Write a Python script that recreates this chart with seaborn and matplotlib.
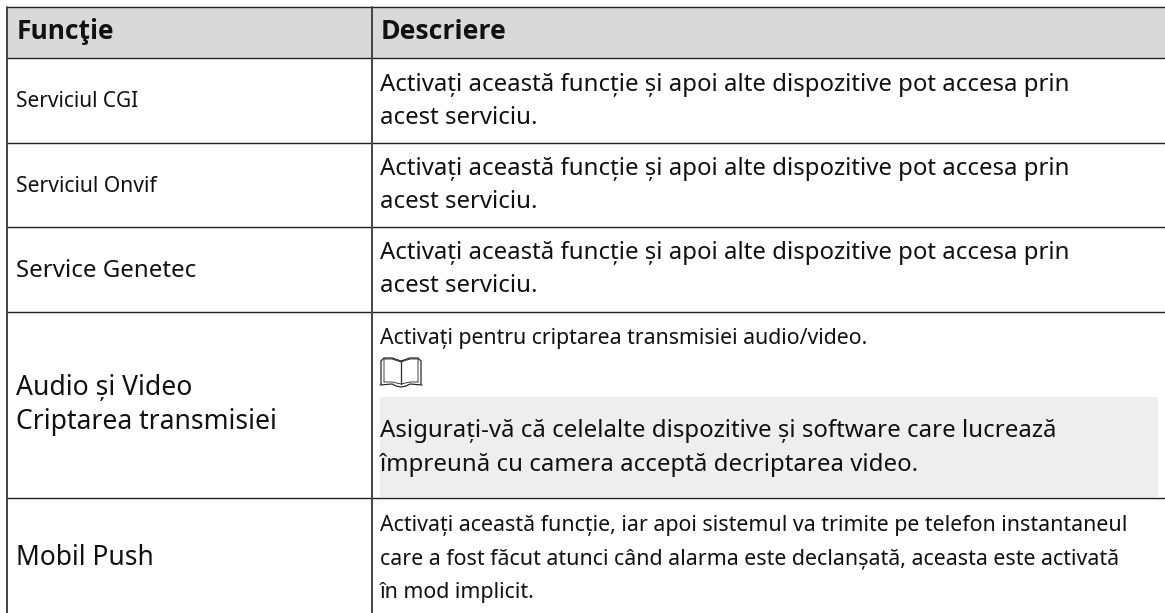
import matplotlib
matplotlib.use("Agg")
import matplotlib.pyplot as plt
import seaborn as sns
from matplotlib.patches import Rectangle

sns.set_theme(style="white")
plt.rcParams['font.family'] = ['Open Sans', 'Noto Sans', 'DejaVu Sans']
BODY = ['Noto Sans', 'DejaVu Sans']

W, H = 1165, 613
headers = ["Funcţie", "Descriere"]
col1 = ["Serviciul CGI", "Serviciul Onvif", "Service Genetec",
        "Audio și Video", "Criptarea transmisiei", "Mobil Push"]
col1_sizes = [15, 15.2, 17.3, 19.1, 19.1, 19]
col1_base = [107, 192, 277, 395, 429, 565]
desc = ["Activați această funcție și apoi alte dispozitive pot accesa prin", "acest serviciu."]
desc_base = [91, 175, 259]
audio1 = "Activați pentru criptarea transmisiei audio/video."
audio2 = ["Asigurați-vă că celelalte dispozitive și software care lucrează",
          "împreună cu camera acceptă decriptarea video."]
push = ["Activați această funcție, iar apoi sistemul va trimite pe telefon instantaneul",
        "care a fost făcut atunci când alarma este declanșată, aceasta este activată",
        "în mod implicit."]
hlines = [7, 58, 142.5, 226.5, 311.5, 498]
vlines = [7, 372]

fig = plt.figure(figsize=(W/100, H/100), dpi=100)
ax = fig.add_axes([0, 0, 1, 1])
ax.set_xlim(0, W); ax.set_ylim(H, 0); ax.axis("off")
c = "#111111"
ax.add_patch(Rectangle((7, 7), W-7, 51, fc="#d9d9d9", ec="none"))
ax.add_patch(Rectangle((380, 397), 778, 100, fc="#eeeeee", ec="none"))
for y in hlines:
    ax.plot([7, W], [y, y], color="#222222", lw=1.0)
for x in vlines:
    ax.plot([x, x], [7, H], color="#444444", lw=1.4)

def put(x, y, s, size, **kw):
    ax.text(x, y, s, fontsize=size, va="baseline", color=c, **kw)

put(17, 39, headers[0], 19, fontweight="bold")
put(381, 39, headers[1], 19.2, fontweight="bold")
for t, s, y in zip(col1, col1_sizes, col1_base):
    put(16, y, t, s, family=BODY)
for y in desc_base:
    put(380, y, desc[0], 17.26, family=BODY)
    put(380, y + 33, desc[1], 17.26, family=BODY)
put(380, 344, audio1, 15.3, family=BODY)
put(380, 437, audio2[0], 17.28, family=BODY)
put(380, 471, audio2[1], 17.28, family=BODY)
for t, y in zip(push, [531, 565, 598]):
    put(380, y, t, 15.4, family=BODY)

# book icon
bk = "#2a2a2a"
lw = 0.9
ax.plot([381, 381, 384, 392, 401, 410, 418, 421, 421],
        [384, 361, 358, 358, 361, 358, 358, 361, 384], color=bk, lw=lw)
ax.plot([384, 384, 392, 401, 410, 418, 418],
        [382, 359, 359, 362, 359, 359, 382], color=bk, lw=lw*0.7)
ax.plot([401, 401], [361, 384], color=bk, lw=lw)
ax.plot([384, 392, 401, 410, 418], [382, 382, 384, 382, 382], color=bk, lw=lw*0.7)
ax.plot([380, 392, 396, 401, 406, 410, 422],
        [385, 384, 386, 387, 386, 384, 385], color=bk, lw=lw)
fig.savefig("out.png", dpi=100)
